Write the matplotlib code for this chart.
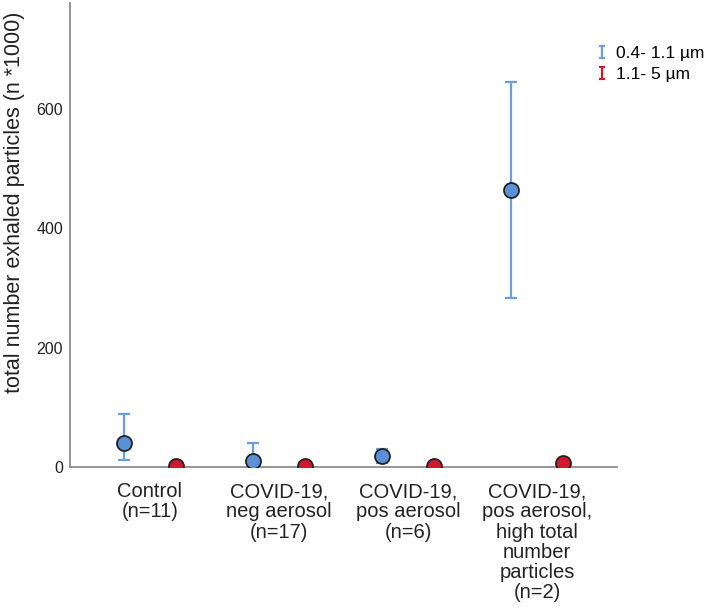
import matplotlib
matplotlib.use("Agg")
import matplotlib.pyplot as plt
from matplotlib.container import ErrorbarContainer
from matplotlib.legend_handler import HandlerErrorbar
import numpy as np

plt.rcParams['font.family'] = ['Liberation Sans', 'DejaVu Sans']

categories = ["Control\n(n=11)",
              "COVID-19,\nneg aerosol\n(n=17)",
              "COVID-19,\npos aerosol\n(n=6)",
              "COVID-19,\npos aerosol,\nhigh total\nnumber\nparticles\n(n=2)"]

# 0.4 - 1.1 um (mean, lower, upper)
small_mean = [40, 10, 18, 464]
small_low = [12, -20, 6, 283]
small_high = [89, 40, 30, 645]

# 1.1 - 5 um
large_mean = [2, 1, 2, 7]
large_low = [1, 0, 1, 4]
large_high = [3, 2, 3, 10]

yticks = [0, 200, 400, 600]
series_labels = ['0.4- 1.1 µm', '1.1- 5 µm']

blue_bar = '#6b9de0'
blue_fill = '#5b8fd6'
red_fill = '#d3172e'

fig = plt.figure(figsize=(7.09, 6.12), dpi=100)
ax = fig.add_axes([70/709, 1-467/612, 547/709, 464/612])

x = np.arange(len(categories))
off = 0.2

sm = np.array(small_mean)
lm = np.array(large_mean)
err_s = [sm - np.array(small_low), np.array(small_high) - sm]
err_l = [lm - np.array(large_low), np.array(large_high) - lm]

ax.errorbar(x - off, sm, yerr=err_s, fmt='none', ecolor=blue_bar,
            elinewidth=1.6, capsize=4.6, capthick=1.6, zorder=2)
ax.errorbar(x + off, lm, yerr=err_l, fmt='none', ecolor=red_fill,
            elinewidth=1.6, capsize=4.6, capthick=1.6, zorder=2)
ax.plot(x - off, sm, 'o', ms=10.8, mfc=blue_fill, mec='#222222', mew=1.3, zorder=3)
ax.plot(x + off, lm, 'o', ms=10.8, mfc=red_fill, mec='#222222', mew=1.3, zorder=3)

# legend proxies with smaller caps
p1 = ax.errorbar([np.nan], [np.nan], yerr=[1], fmt='none', ecolor=blue_bar,
                 elinewidth=1.6, capsize=2.3, capthick=1.6, label=series_labels[0])
p2 = ax.errorbar([np.nan], [np.nan], yerr=[1], fmt='none', ecolor=red_fill,
                 elinewidth=1.6, capsize=2.3, capthick=1.6, label=series_labels[1])

ax.set_xlim(-0.62, 3.62)
ax.set_ylim(0, 778)
ax.set_yticks(yticks)
ax.set_xticks(x)
ax.set_xticklabels(categories, fontsize=14.5, color='#222222', linespacing=1.08)
ax.tick_params(axis='y', length=0, pad=5, labelsize=11.5, labelcolor='#222222')
ax.tick_params(axis='x', length=0, pad=11)
ax.set_ylabel('total number exhaled particles (n *1000)', fontsize=15.5, color='#222222')
ax.yaxis.set_label_coords(-0.082, 0.571)

for s in ['top', 'right']:
    ax.spines[s].set_visible(False)
for s in ['left', 'bottom']:
    ax.spines[s].set_color('#8c8c8c')
    ax.spines[s].set_linewidth(1.3)

fig.legend(handles=[p1, p2], loc='upper left', bbox_to_anchor=(596/709, 1-46/612),
           frameon=False, fontsize=12.5, handlelength=0.7, handletextpad=0.45,
           labelspacing=0.35, borderpad=0, borderaxespad=0,
           handler_map={ErrorbarContainer: HandlerErrorbar(yerr_size=0.35)})

fig.savefig('out.png', dpi=100)
